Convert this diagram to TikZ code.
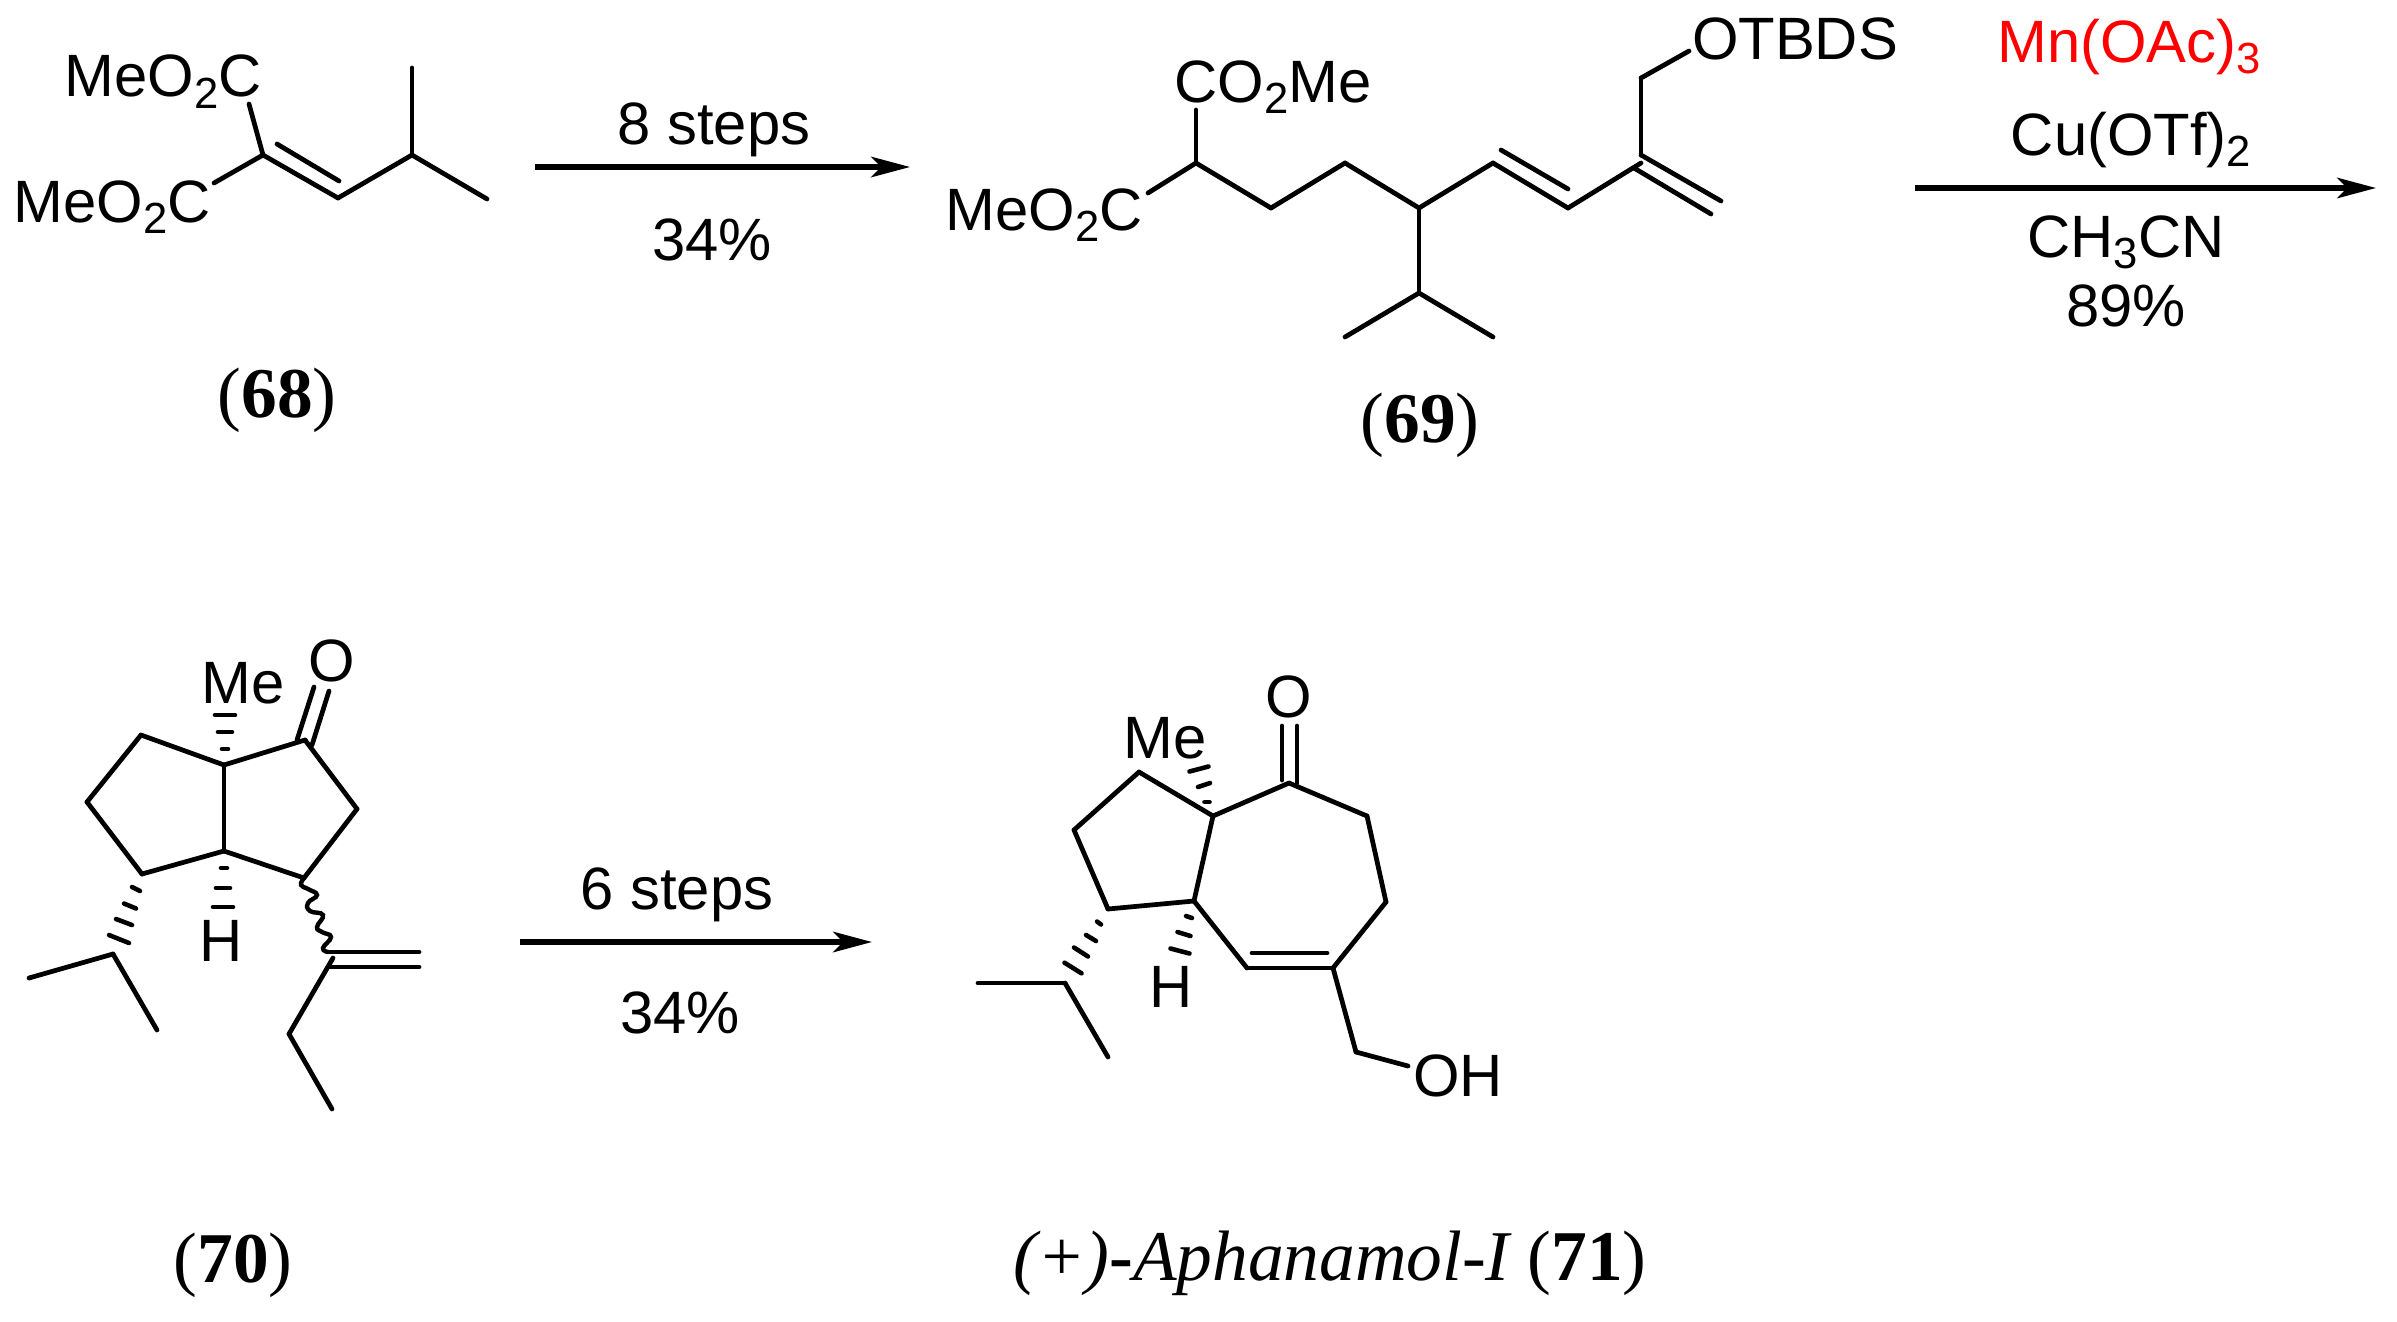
\documentclass[tikz,border=0pt]{standalone}
\usepackage{fontspec}
\setmainfont{Liberation Serif}
\newfontfamily\chemfont{Liberation Sans}
\usetikzlibrary{arrows.meta}
\newcommand{\sbs}[1]{\raisebox{-0.2em}{\fontsize{12.4}{12}\selectfont #1}}
\tikzset{
    atom/.style={anchor=base,inner sep=0pt,font=\chemfont\fontsize{17}{18}\selectfont},
    tag/.style={anchor=base,inner sep=0pt,font=\fontsize{20.3}{22}\selectfont},
    bond/.style={line width=1.35pt,line cap=round},
    hash/.style={line width=1.3pt,line cap=round},
    wavy/.style={line width=1.25pt,line cap=round},
    rxn/.style={line width=1.5pt,-{Stealth[length=11pt,width=5.8pt,inset=2.8pt]}}
}

\begin{document}
\begin{tikzpicture}[x=0.01cm,y=-0.01cm]
            \useasboundingbox(0,0)rectangle(2397,1321);
            % 68
            \node[atom](e1)at(163, 97){MeO\sbs{2}C};
            \node[atom](e2)at(112, 222){MeO\sbs{2}C};
            \node[tag](t68)at(277, 417){({\bfseries 68})};
            \coordinate(a1)at(263, 155);
            \coordinate(a2)at(338, 198);
            \coordinate(a3)at(412, 155);
            \coordinate(a4)at(412, 68);
            \coordinate(a5)at(487, 199);
            \coordinate(a6)at(249, 104);
            \coordinate(a7)at(214, 183);
            \coordinate(a8)at(277, 144);
            \coordinate(a9)at(339, 181);
            \path[bond](a1) edge (a2)
            (a2) edge (a3)
            (a3) edge (a4)
            (a3) edge (a5)
            (a1) edge (a6)
            (a1) edge (a7)
            (a8) edge (a9);
            % first step
            \coordinate(r1)at(535, 167);
            \coordinate(r2)at(910, 167);
            \draw[rxn](r1) -- (r2);
            \node[atom](s1)at(714, 144){8 steps};
            \node[atom](y1)at(712, 260){34\%};
            % 69
            \node[atom](e3)at(1273, 102){CO\sbs{2}Me};
            \node[atom](e4)at(1044, 230){MeO\sbs{2}C};
            \node[atom](e5)at(1795, 59){OTBDS};
            \node[tag](t69)at(1420, 442){({\bfseries 69})};
            \coordinate(b1)at(1196, 163);
            \coordinate(b2)at(1196, 110);
            \coordinate(b3)at(1148, 193);
            \coordinate(b4)at(1271, 208);
            \coordinate(b5)at(1345, 163);
            \coordinate(b6)at(1419, 208);
            \coordinate(b7)at(1419, 293);
            \coordinate(b8)at(1345, 337);
            \coordinate(b9)at(1493, 337);
            \coordinate(b10)at(1493, 163);
            \coordinate(b11)at(1568, 208);
            \coordinate(b12)at(1641, 163);
            \coordinate(b13)at(1641, 78);
            \coordinate(b14)at(1689, 51);
            \coordinate(b15)at(1501, 150);
            \coordinate(b16)at(1568, 189);
            \coordinate(b17)at(1711, 214);
            \coordinate(b18)at(1641, 155);
            \coordinate(b19)at(1721, 201);
            \coordinate(b20)at(1634, 168);
            \path[bond](b1) edge (b2)
            (b1) edge (b3)
            (b1) edge (b4)
            (b4) edge (b5)
            (b5) edge (b6)
            (b6) edge (b7)
            (b7) edge (b8)
            (b7) edge (b9)
            (b6) edge (b10)
            (b10) edge (b11)
            (b11) edge (b12)
            (b18) edge (b13)
            (b13) edge (b14)
            (b15) edge (b16)
            (b20) edge (b17)
            (b18) edge (b19);
            % second step
            \coordinate(r3)at(1915, 188);
            \coordinate(r4)at(2376, 188);
            \draw[rxn](r3) -- (r4);
            \node[atom,text=red](m1)at(2129, 62){Mn(OAc)\sbs{3}};
            \node[atom](m2)at(2131, 155){Cu(OTf)\sbs{2}};
            \node[atom](m3)at(2126, 257){CH\sbs{3}CN};
            \node[atom](y2)at(2126, 326){89\%};
            % 70
            \node[atom](me1)at(243, 703){Me};
            \node[atom](o1)at(332, 681){O};
            \node[atom](h1)at(221, 961){H};
            \node[tag](t70)at(233, 1282){({\bfseries 70})};
            \coordinate(c1)at(224, 765);
            \coordinate(c2)at(224, 851);
            \coordinate(c3)at(141, 735);
            \coordinate(c4)at(87, 802);
            \coordinate(c5)at(142, 874);
            \coordinate(c6)at(305, 740);
            \coordinate(c7)at(357, 809);
            \coordinate(c8)at(304, 878);
            \coordinate(c9)at(297, 740);
            \coordinate(c10)at(314, 687);
            \coordinate(c11)at(312, 745);
            \coordinate(c12)at(329, 691);
            \coordinate(c13)at(113, 954);
            \coordinate(c14)at(29, 978);
            \coordinate(c15)at(157, 1030);
            \coordinate(c16)at(328, 952);
            \coordinate(c17)at(419, 952);
            \coordinate(c18)at(330, 967);
            \coordinate(c19)at(419, 967);
            \coordinate(c20)at(333, 958);
            \coordinate(c21)at(289, 1034);
            \coordinate(c22)at(332, 1109);
            \path[bond](c1) edge (c2)
            (c1) edge (c3)
            (c3) edge (c4)
            (c4) edge (c5)
            (c5) edge (c2)
            (c1) edge (c6)
            (c6) edge (c7)
            (c7) edge (c8)
            (c8) edge (c2)
            (c9) edge (c10)
            (c11) edge (c12)
            (c13) edge (c14)
            (c13) edge (c15)
            (c16) edge (c17)
            (c18) edge (c19)
            (c20) edge (c21)
            (c21) edge (c22);
            \draw[wavy]plot[smooth,tension=0.8]coordinates{(c8) (301,885) (308,889) (317,895) (308,903) (310,911) (323,915) (317,927) (322,932) (331,937) (323,948) (c16)};
            \foreach \x/\y/\dx/\dy in {225/749/3/0,225/732/7/0,225/715/10/0,
                224/868/3/0,223/888/7/0,223/907/10/0,
                136/889/4/2,130/906/6/2.5,124/922/8/3,119/939/10/4}
                \draw[hash]({\x-\dx},{\y-\dy}) -- ({\x+\dx},{\y+\dy});
            % last step
            \coordinate(r5)at(520, 942);
            \coordinate(r6)at(872, 942);
            \draw[rxn](r5) -- (r6);
            \node[atom](s2)at(677, 909){6 steps};
            \node[atom](y3)at(680, 1033){34\%};
            % 71
            \node[atom](me2)at(1165, 758){Me};
            \node[atom](o2)at(1289, 717){O};
            \node[atom](h2)at(1171, 1007){H};
            \node[atom](oh)at(1458, 1096){OH};
            \node[tag](t71)at(1330, 1280){{\itshape (+)}{\bfseries -}{\itshape Aphanamol-I} ({\bfseries 71})};
            \coordinate(d1)at(1213, 816);
            \coordinate(d2)at(1139, 772);
            \coordinate(d3)at(1074, 830);
            \coordinate(d4)at(1108, 909);
            \coordinate(d5)at(1194, 901);
            \coordinate(d6)at(1289, 783);
            \coordinate(d7)at(1367, 816);
            \coordinate(d8)at(1386, 902);
            \coordinate(d9)at(1333, 968);
            \coordinate(d10)at(1247, 968);
            \coordinate(d11)at(1252, 953);
            \coordinate(d12)at(1327, 953);
            \coordinate(d13)at(1282, 726);
            \coordinate(d14)at(1282, 780);
            \coordinate(d15)at(1297, 726);
            \coordinate(d16)at(1297, 783);
            \coordinate(d17)at(1356, 1052);
            \coordinate(d18)at(1408, 1066);
            \coordinate(d19)at(1065, 983);
            \coordinate(d20)at(978, 983);
            \coordinate(d21)at(1108, 1057);
            \path[bond](d1) edge (d2)
            (d2) edge (d3)
            (d3) edge (d4)
            (d4) edge (d5)
            (d5) edge (d1)
            (d1) edge (d6)
            (d6) edge (d7)
            (d7) edge (d8)
            (d8) edge (d9)
            (d9) edge (d10)
            (d10) edge (d5)
            (d11) edge (d12)
            (d13) edge (d14)
            (d15) edge (d16)
            (d9) edge (d17)
            (d17) edge (d18)
            (d19) edge (d20)
            (d19) edge (d21);
            \foreach \x/\y/\dx/\dy in {1207/802/2.5/0,1204/785/6/-2,1199/769/9.5/-2.5,
                1189/917/3/1,1184/934/6.5/2,1180/951/9.5/2.5,
                1099/923/2/1.5,1091/938/5/3,1081/952/7/4.5,1073/968/8.5/5.3}
                \draw[hash]({\x-\dx},{\y-\dy}) -- ({\x+\dx},{\y+\dy});
        \end{tikzpicture}
\end{document}
